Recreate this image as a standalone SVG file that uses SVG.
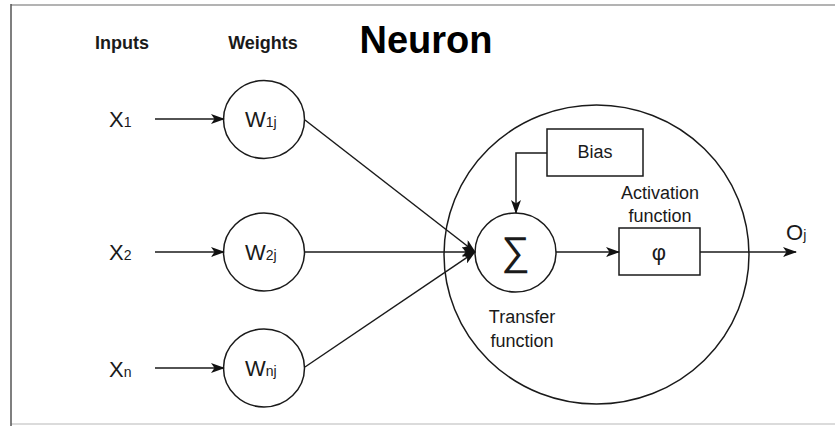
<svg xmlns="http://www.w3.org/2000/svg" width="835" height="426" viewBox="0 0 835 426">
  <defs>
    <marker id="arrow" viewBox="0 0 14 10" refX="13" refY="5" markerWidth="14" markerHeight="10" markerUnits="userSpaceOnUse" orient="auto">
      <path d="M0,0 L14,5 L0,10 L3.5,5 z" fill="#111"/>
    </marker>
  </defs>
  <style>
    .txt { font-family: "Liberation Sans", Arial, sans-serif; fill: #1a1a1a; }
    .hdr { font-weight: bold; font-size: 18px; }
    .ttl { font-weight: bold; font-size: 38px; fill: #000; }
    .var { font-size: 22px; }
    .sub { font-size: 14px; }
    .lbl { font-size: 18px; }
    .shape { fill: #fff; stroke: #1a1a1a; stroke-width: 1.5; }
    .edge { fill: none; stroke: #1a1a1a; stroke-width: 1.5; marker-end: url(#arrow); }
  </style>

  <rect width="835" height="426" fill="#fff"/>
  <!-- frame -->
  <line x1="11" y1="5" x2="835" y2="5" stroke="#9a9a9a" stroke-width="1.5"/>
  <line x1="11" y1="424" x2="835" y2="424" stroke="#cfcfcf" stroke-width="1.5"/>
  <line x1="11" y1="4" x2="11" y2="426" stroke="#555" stroke-width="1.5"/>

  <!-- headings -->
  <text class="txt hdr" x="122" y="49" text-anchor="middle">Inputs</text>
  <text class="txt hdr" x="263" y="49" text-anchor="middle">Weights</text>
  <text class="txt ttl" x="426" y="53" text-anchor="middle">Neuron</text>

  <!-- neuron body -->
  <g id="neuron">
    <ellipse class="shape" cx="596.5" cy="254.5" rx="152.5" ry="149.5" fill="none"/>
  </g>

  <!-- inputs -->
  <g id="x1"><text class="txt var" x="109" y="127">X<tspan class="sub">1</tspan></text></g>
  <g id="x2"><text class="txt var" x="109" y="260">X<tspan class="sub">2</tspan></text></g>
  <g id="xn"><text class="txt var" x="109" y="377">X<tspan class="sub">n</tspan></text></g>

  <!-- weights -->
  <g id="w1j">
    <ellipse class="shape" cx="264" cy="119.5" rx="40.5" ry="39"/>
    <text class="txt var" x="245" y="127">W<tspan class="sub">1j</tspan></text>
  </g>
  <g id="w2j">
    <ellipse class="shape" cx="264" cy="252" rx="40.5" ry="39"/>
    <text class="txt var" x="245" y="260">W<tspan class="sub">2j</tspan></text>
  </g>
  <g id="wnj">
    <ellipse class="shape" cx="264" cy="368" rx="40.5" ry="39"/>
    <text class="txt var" x="245" y="376">W<tspan class="sub">nj</tspan></text>
  </g>

  <!-- transfer function (summation) -->
  <g id="sum">
    <ellipse class="shape" cx="515.5" cy="252.5" rx="40.5" ry="39.5"/>
    <text class="txt" x="515.5" y="265" text-anchor="middle" font-size="40">∑</text>
  </g>
  <g id="transfer-label">
    <text class="txt lbl" x="522" y="323" text-anchor="middle">Transfer</text>
    <text class="txt lbl" x="522" y="347" text-anchor="middle">function</text>
  </g>

  <!-- bias -->
  <g id="bias">
    <rect class="shape" x="547" y="129" width="96" height="47"/>
    <text class="txt lbl" x="595" y="158" text-anchor="middle">Bias</text>
  </g>

  <!-- activation function -->
  <g id="activation">
    <rect class="shape" x="619" y="228" width="81" height="47"/>
    <text class="txt" x="659" y="260" text-anchor="middle" font-size="22">φ</text>
  </g>
  <g id="activation-label">
    <text class="txt lbl" x="660" y="199" text-anchor="middle">Activation</text>
    <text class="txt lbl" x="660" y="222" text-anchor="middle">function</text>
  </g>

  <!-- output -->
  <g id="output"><text class="txt var" x="786" y="240">O<tspan class="sub">j</tspan></text></g>

  <!-- connectors -->
  <g id="connectors">
    <line class="edge" x1="155" y1="119" x2="224" y2="119" stroke-width="2.2"/>
    <line class="edge" x1="155" y1="252" x2="224" y2="252"/>
    <line class="edge" x1="155" y1="368" x2="224" y2="368"/>
    <line class="edge" x1="305" y1="120" x2="475" y2="252"/>
    <line class="edge" x1="305" y1="252" x2="475" y2="252"/>
    <line class="edge" x1="305" y1="367" x2="475" y2="252"/>
    <polyline class="edge" points="547,153 516,153 516,213"/>
    <line class="edge" x1="556" y1="252" x2="619" y2="252"/>
    <line class="edge" x1="700" y1="252" x2="796" y2="252"/>
  </g>
</svg>
